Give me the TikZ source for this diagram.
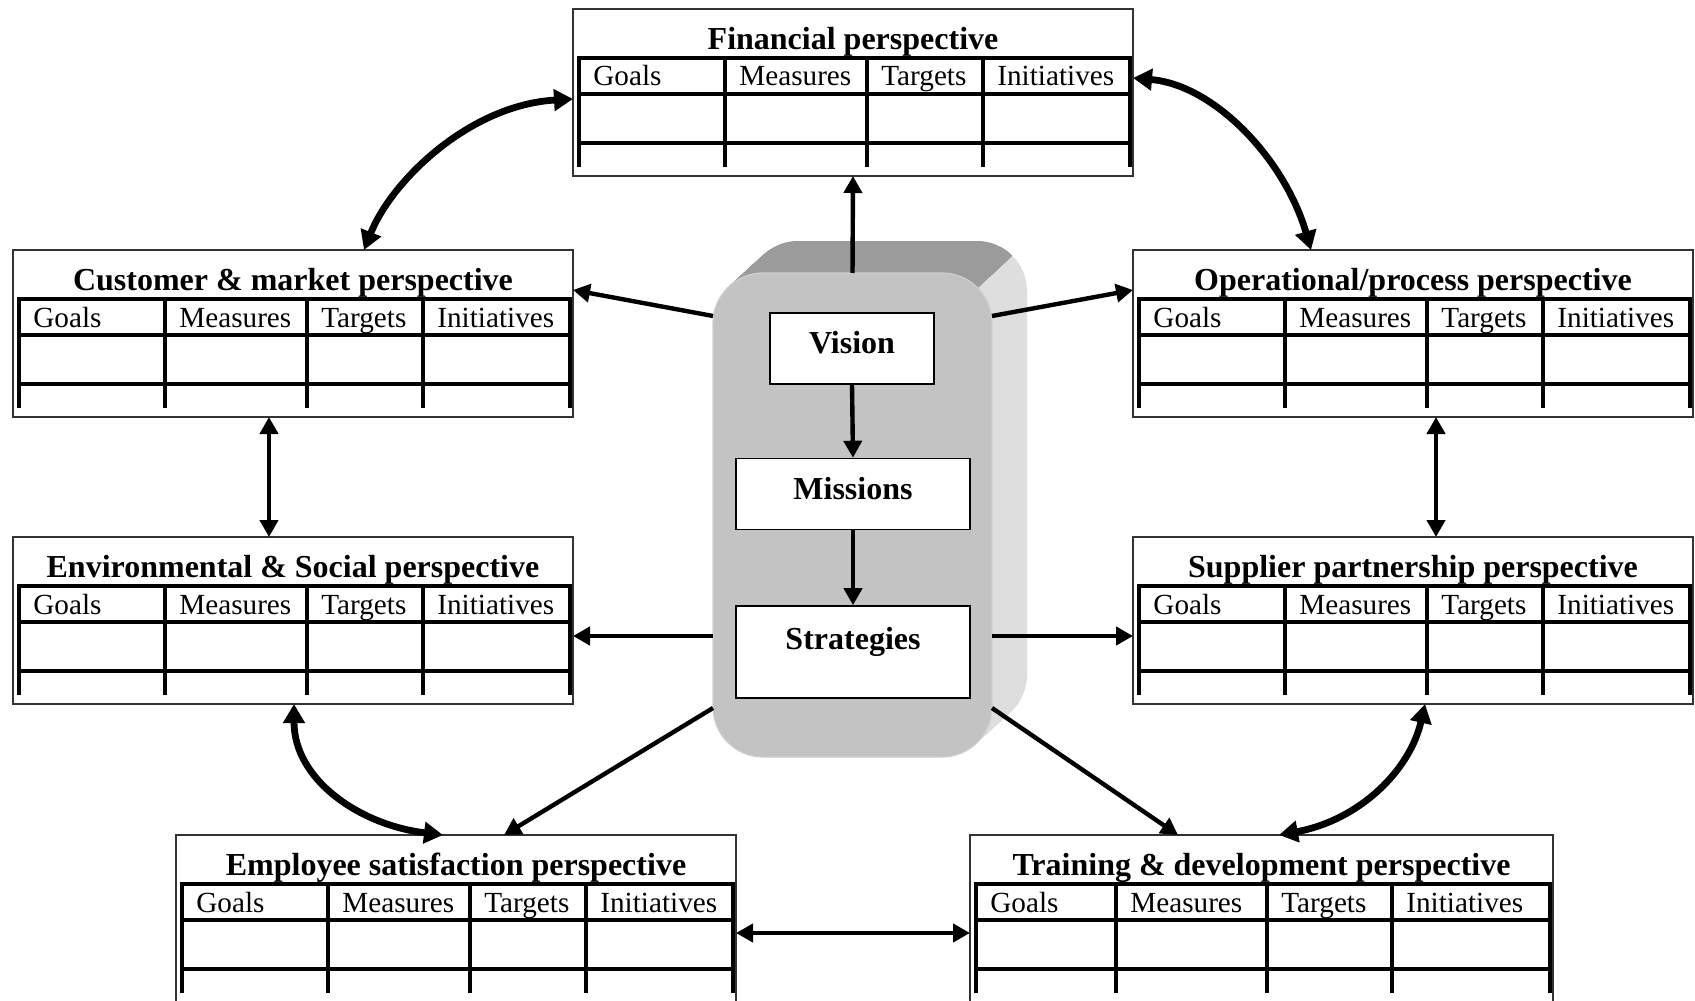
\documentclass[tikz,border=0pt]{standalone}
\usepackage{fontspec}
\setmainfont{Liberation Serif}
\usetikzlibrary{arrows.meta,calc}
\definecolor{frontgrey}{HTML}{C3C3C3}
\definecolor{topgrey}{HTML}{9B9B9B}
\definecolor{sidegrey}{HTML}{DEDEDE}
\definecolor{boxline}{HTML}{333333}
\tikzset{
  pbox/.style={draw=boxline, line width=0.75pt, fill=white, rectangle, inner sep=0pt, outer sep=0pt, minimum height=83.5pt, anchor=north west},
  ptitle/.style={font=\fontsize{16}{18}\selectfont\bfseries, inner sep=0pt},
  phead/.style={font=\fontsize{14.6}{17}\selectfont, inner sep=0pt, anchor=base west},
  tbl/.style={line width=1.8pt, line cap=rect},
  coreface/.style={fill=frontgrey, draw=frontgrey!80!white, line width=0.6pt, rounded corners=25pt, inner sep=0pt, outer sep=0pt},
  cbox/.style={draw=black, fill=white, line width=0.8pt, inner sep=0pt, text height=11pt, text depth=5.8pt, font=\fontsize{16}{18}\selectfont\bfseries},
  ctext/.style={inner sep=0pt, font=\fontsize{16}{18}\selectfont\bfseries},
  conn/.style={line width=2.2pt, -{Triangle[length=8.5pt,width=9pt]}},
  dconn/.style={line width=2.2pt, {Triangle[length=8.5pt,width=9pt]}-{Triangle[length=8.5pt,width=9pt]}},
  carc/.style={line width=3.4pt, {Triangle[length=9.5pt,width=10.5pt]}-{Triangle[length=9.5pt,width=10.5pt]}}
}
% #1 name, #2 x, #3 y, #4 width, #5 title, #6-#8 column offsets
\newcommand\perspbox[8]{%
  \node[pbox, minimum width=#4*0.5pt] (#1) at (#2,#3) {};
  \node[ptitle] (#1t) at ({#2+#4/2},{#3+33}) {#5};
  \draw[tbl] ({#2+6},{#3+49}) -- ({#2+#4-3},{#3+49});
  \draw[tbl] ({#2+6},{#3+85}) -- ({#2+#4-3},{#3+85});
  \draw[tbl] ({#2+6},{#3+134}) -- ({#2+#4-3},{#3+134});
  \foreach \c in {6,#6,#7,#8,#4-3} \draw[tbl] ({#2+\c},{#3+49}) -- ({#2+\c},{#3+156});
  \node[phead] (#1a) at ({#2+20},{#3+77}) {Goals};
  \node[phead] (#1b) at ({#2+#6+14},{#3+77}) {Measures};
  \node[phead] (#1c) at ({#2+#7+14},{#3+77}) {Targets};
  \node[phead] (#1d) at ({#2+#8+14},{#3+77}) {Initiatives};
}
\begin{document}
\begin{tikzpicture}[x=0.5pt,y=-0.5pt]
\clip (0,0) rectangle (1695,1000);
\fill[white] (0,0) rectangle (1695,1000);

% perspective boxes
\perspbox{fin}{573}{9}{560}{Financial perspective}{152}{294}{410}
\perspbox{cust}{13}{250}{560}{Customer \& market perspective}{152}{294}{410}
\perspbox{op}{1133}{250}{560}{Operational/process perspective}{152}{294}{410}
\perspbox{env}{13}{537}{560}{Environmental \& Social perspective}{152}{294}{410}
\perspbox{sup}{1133}{537}{560}{Supplier partnership perspective}{152}{294}{410}
\perspbox{emp}{176}{835}{560}{Employee satisfaction perspective}{152}{294}{410}
\perspbox{trn}{970}{835}{583}{Training \& development perspective}{146}{297}{422}

% central 3D block
\foreach \i in {0,...,40}{\fill[sidegrey, rounded corners=25pt] ({713+35*\i/40},{273-32*\i/40}) rectangle ++(279,484);}
\begin{scope}
  \clip (690,287.6) -- (690,200) -- (1073,200) -- (977.4,287.6) -- cycle;
  \foreach \i in {0,...,40}{\fill[topgrey, rounded corners=25pt] ({713+35*\i/40},{273-32*\i/40}) rectangle ++(279,484);}
\end{scope}
\node[coreface, minimum width=139.5pt, minimum height=242pt, anchor=north west] (core) at (713,273) {};

\node[cbox, minimum width=82pt, minimum height=35.5pt] (vision) at (852,348.5) {Vision};
\node[cbox, minimum width=117pt, minimum height=35.5pt] (missions) at (853,494) {Missions};
\node[cbox, minimum width=117pt, minimum height=46pt] (strat) at (853,652) {};
\node[ctext] (strattxt) at (853,642) {Strategies};

\draw[conn] (vision.south) -- (missions.north);
\draw[conn] (missions.south) -- (strat.north);

% connectors from the core
\draw[conn] (core.north) -- (fin.south);
\draw[conn] ($(core.north west)+(0,43)$) -- ($(cust.north east)+(0,40)$);
\draw[conn] ($(core.north east)+(0,43)$) -- ($(op.north west)+(0,40)$);
\draw[conn] ($(core.north west)+(0,363)$) -- ($(env.north east)+(0,99)$);
\draw[conn] ($(core.north east)+(0,363)$) -- ($(sup.north west)+(0,99)$);
\draw[conn] ($(core.north west)+(0,435)$) -- ($(emp.north west)+(328,0)$);
\draw[conn] ($(core.north east)+(0,435)$) -- ($(trn.north west)+(208,0)$);

% links between perspectives
\draw[carc] ($(cust.north west)+(351,0)$) .. controls (392,180) and (470,105) .. ($(fin.north west)+(0,90)$);
\draw[carc] ($(fin.north east)+(0,69)$) .. controls (1215,85) and (1285,160) .. ($(op.north west)+(178,0)$);
\draw[dconn] ($(cust.south west)+(256,0)$) -- ($(env.north west)+(256,0)$);
\draw[dconn] ($(op.south west)+(303,0)$) -- ($(sup.north west)+(303,0)$);
\draw[carc] ($(env.south west)+(281,0)$) .. controls (294,780) and (360,825) .. ($(emp.north west)+(267,0)$);
\draw[carc] ($(sup.south west)+(292,0)$) .. controls (1410,770) and (1360,820) .. ($(trn.north west)+(309,0)$);
\draw[dconn] ($(emp.north east)+(0,98)$) -- ($(trn.north west)+(0,98)$);
\end{tikzpicture}
\end{document}
